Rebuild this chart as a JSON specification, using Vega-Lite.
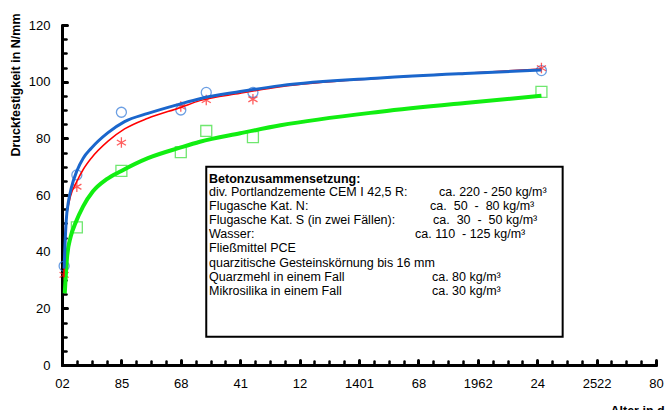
{
  "$schema": "https://vega.github.io/schema/vega-lite/v6.json",
  "width": 594,
  "height": 340,
  "autosize": "none",
  "padding": {"left": 62, "top": 25, "right": 11, "bottom": 45},
  "background": "white",
  "config": {
    "view": {"stroke": null},
    "font": "Liberation Sans",
    "axis": {"grid": false, "labelFont": "Liberation Sans", "titleFont": "Liberation Sans", "labelColor": "black", "titleColor": "black", "domainColor": "black", "tickColor": "black", "labelFontSize": 13}
  },
  "datasets": {
    "points": [
      {"serie": "Serie 1", "alter": 1, "festigkeit": 34.9},
      {"serie": "Serie 1", "alter": 7, "festigkeit": 67.1},
      {"serie": "Serie 1", "alter": 28, "festigkeit": 89.2},
      {"serie": "Serie 1", "alter": 56, "festigkeit": 90.0},
      {"serie": "Serie 1", "alter": 68, "festigkeit": 96.2},
      {"serie": "Serie 1", "alter": 90, "festigkeit": 96.2},
      {"serie": "Serie 1", "alter": 226, "festigkeit": 103.9},
      {"serie": "Serie 2", "alter": 1, "festigkeit": 31.8},
      {"serie": "Serie 2", "alter": 7, "festigkeit": 62.9},
      {"serie": "Serie 2", "alter": 28, "festigkeit": 78.5},
      {"serie": "Serie 2", "alter": 56, "festigkeit": 91.2},
      {"serie": "Serie 2", "alter": 68, "festigkeit": 93.5},
      {"serie": "Serie 2", "alter": 90, "festigkeit": 93.8},
      {"serie": "Serie 2", "alter": 226, "festigkeit": 104.8},
      {"serie": "Serie 3", "alter": 7, "festigkeit": 48.6},
      {"serie": "Serie 3", "alter": 28, "festigkeit": 68.5},
      {"serie": "Serie 3", "alter": 56, "festigkeit": 75.1},
      {"serie": "Serie 3", "alter": 68, "festigkeit": 82.6},
      {"serie": "Serie 3", "alter": 90, "festigkeit": 80.4},
      {"serie": "Serie 3", "alter": 226, "festigkeit": 96.4}
    ],
    "curves": [
      {"serie": "Serie 1", "alter": 1, "festigkeit": 34},
      {"serie": "Serie 1", "alter": 1.4, "festigkeit": 42},
      {"serie": "Serie 1", "alter": 2, "festigkeit": 51},
      {"serie": "Serie 1", "alter": 3, "festigkeit": 57.5},
      {"serie": "Serie 1", "alter": 4.4, "festigkeit": 62.5},
      {"serie": "Serie 1", "alter": 7, "festigkeit": 68.5},
      {"serie": "Serie 1", "alter": 10, "festigkeit": 73},
      {"serie": "Serie 1", "alter": 13.8, "festigkeit": 76.5},
      {"serie": "Serie 1", "alter": 21.7, "festigkeit": 82},
      {"serie": "Serie 1", "alter": 29.5, "festigkeit": 85.9},
      {"serie": "Serie 1", "alter": 40.5, "festigkeit": 88.8},
      {"serie": "Serie 1", "alter": 56, "festigkeit": 92.2},
      {"serie": "Serie 1", "alter": 65, "festigkeit": 94.0},
      {"serie": "Serie 1", "alter": 84, "festigkeit": 96.5},
      {"serie": "Serie 1", "alter": 103, "festigkeit": 98.6},
      {"serie": "Serie 1", "alter": 150, "festigkeit": 101.3},
      {"serie": "Serie 1", "alter": 190, "festigkeit": 102.9},
      {"serie": "Serie 1", "alter": 226, "festigkeit": 104.1},
      {"serie": "Serie 2", "alter": 0.9, "festigkeit": 31},
      {"serie": "Serie 2", "alter": 1.6, "festigkeit": 48},
      {"serie": "Serie 2", "alter": 2.8, "festigkeit": 55.5},
      {"serie": "Serie 2", "alter": 4, "festigkeit": 59.5},
      {"serie": "Serie 2", "alter": 7, "festigkeit": 64.8},
      {"serie": "Serie 2", "alter": 10, "festigkeit": 69},
      {"serie": "Serie 2", "alter": 13.8, "festigkeit": 73},
      {"serie": "Serie 2", "alter": 21.7, "festigkeit": 79},
      {"serie": "Serie 2", "alter": 29.5, "festigkeit": 83.3},
      {"serie": "Serie 2", "alter": 40.5, "festigkeit": 87.1},
      {"serie": "Serie 2", "alter": 56, "festigkeit": 90.9},
      {"serie": "Serie 2", "alter": 65, "festigkeit": 93.3},
      {"serie": "Serie 2", "alter": 84, "festigkeit": 95.9},
      {"serie": "Serie 2", "alter": 103, "festigkeit": 98.2},
      {"serie": "Serie 2", "alter": 150, "festigkeit": 101.2},
      {"serie": "Serie 2", "alter": 190, "festigkeit": 103.0},
      {"serie": "Serie 2", "alter": 226, "festigkeit": 104.5},
      {"serie": "Serie 3", "alter": 1.3, "festigkeit": 25.3},
      {"serie": "Serie 3", "alter": 2.4, "festigkeit": 38.2},
      {"serie": "Serie 3", "alter": 4.1, "festigkeit": 45.3},
      {"serie": "Serie 3", "alter": 6.3, "festigkeit": 50.0},
      {"serie": "Serie 3", "alter": 9.9, "festigkeit": 55.9},
      {"serie": "Serie 3", "alter": 14.6, "festigkeit": 61.3},
      {"serie": "Serie 3", "alter": 20.9, "festigkeit": 65.5},
      {"serie": "Serie 3", "alter": 28, "festigkeit": 68.5},
      {"serie": "Serie 3", "alter": 40.5, "festigkeit": 73.0},
      {"serie": "Serie 3", "alter": 56, "festigkeit": 76.8},
      {"serie": "Serie 3", "alter": 65, "festigkeit": 78.8},
      {"serie": "Serie 3", "alter": 84, "festigkeit": 81.8},
      {"serie": "Serie 3", "alter": 103, "festigkeit": 84.6},
      {"serie": "Serie 3", "alter": 150, "festigkeit": 89.4},
      {"serie": "Serie 3", "alter": 190, "festigkeit": 92.5},
      {"serie": "Serie 3", "alter": 226, "festigkeit": 95.0}
    ],
    "box": [
      {"x1": 68, "x2": 236, "y1": 10, "y2": 70}
    ],
    "notes": [
      {"rolle": "kopf", "text": "Betonzusammensetzung:", "x": 69.3, "y": 65.8},
      {"rolle": "text", "text": "div. Portlandzemente CEM I 42,5 R:", "x": 69.3, "y": 61.0},
      {"rolle": "text", "text": "Flugasche Kat. N:", "x": 69.3, "y": 56.0},
      {"rolle": "text", "text": "Flugasche Kat. S (in zwei Fällen):", "x": 69.3, "y": 51.1},
      {"rolle": "text", "text": "Wasser:", "x": 69.3, "y": 46.1},
      {"rolle": "text", "text": "Fließmittel PCE", "x": 69.3, "y": 41.2},
      {"rolle": "text", "text": "quarzitische Gesteinskörnung bis 16 mm", "x": 69.3, "y": 36.1},
      {"rolle": "text", "text": "Quarzmehl in einem Fall", "x": 69.3, "y": 31.2},
      {"rolle": "text", "text": "Mikrosilika in einem Fall", "x": 69.3, "y": 26.2},
      {"rolle": "text", "text": "ca. 220 - 250 kg/m³", "x": 177.7, "y": 61.0},
      {"rolle": "text", "text": "ca.\u00a0\u00a050\u00a0\u00a0-\u00a0\u00a080 kg/m³", "x": 173.5, "y": 56.0},
      {"rolle": "text", "text": "ca.\u00a0\u00a030\u00a0\u00a0-\u00a0\u00a050 kg/m³", "x": 174.9, "y": 51.1},
      {"rolle": "text", "text": "ca. 110\u00a0\u00a0- 125 kg/m³", "x": 166.4, "y": 46.1},
      {"rolle": "text", "text": "ca. 80 kg/m³", "x": 174.4, "y": 31.2},
      {"rolle": "text", "text": "ca. 30 kg/m³", "x": 174.4, "y": 26.2}
    ]
  },
  "resolve": {"axis": {"x": "independent", "y": "independent"}},
  "layer": [
    {
      "data": {"name": "box"},
      "mark": {"type": "rect", "fill": "white", "stroke": "black", "strokeWidth": 2},
      "encoding": {
        "x": {"field": "x1", "type": "quantitative", "scale": {"domain": [0, 280], "nice": false, "zero": false},
          "axis": {"orient": "bottom", "values": [0,7,14,21,28,35,42,49,56,63,70,77,84,91,98,105,112,119,126,133,140,147,154,161,168,175,182,189,196,203,210,217,224,231,238,245,252,259,266,273,280], "labels": false, "domain": false, "tickSize": -4, "tickWidth": 2.5, "tickCap": "round", "title": null}},
        "x2": {"field": "x2"},
        "y": {"field": "y1", "type": "quantitative", "scale": {"domain": [0, 120], "nice": false, "zero": false},
          "axis": {"orient": "left", "values": [0,5,10,15,20,25,30,35,40,45,50,55,60,65,70,75,80,85,90,95,100,105,110,115,120], "labels": false, "domain": false, "tickSize": -4, "tickWidth": 2.5, "tickCap": "round", "title": null}},
        "y2": {"field": "y2"}
      }
    },
    {
      "data": {"name": "notes"},
      "transform": [{"filter": "datum.rolle === 'kopf'"}],
      "mark": {"type": "text", "align": "left", "baseline": "middle", "fontSize": 12.5, "fontWeight": "bold", "font": "Liberation Sans", "color": "black"},
      "encoding": {
        "x": {"field": "x", "type": "quantitative", "axis": null},
        "y": {"field": "y", "type": "quantitative", "axis": null},
        "text": {"field": "text"}
      }
    },
    {
      "data": {"name": "notes"},
      "transform": [{"filter": "datum.rolle === 'text'"}],
      "mark": {"type": "text", "align": "left", "baseline": "middle", "fontSize": 12.5, "font": "Liberation Sans", "color": "black"},
      "encoding": {
        "x": {"field": "x", "type": "quantitative", "axis": null},
        "y": {"field": "y", "type": "quantitative", "axis": null},
        "text": {"field": "text"}
      }
    },
    {
      "data": {"name": "points"},
      "transform": [{"filter": "datum.serie === 'Serie 3'"}],
      "mark": {"type": "point", "shape": "square", "filled": false, "color": "#33dd33", "size": 120, "strokeWidth": 1.3},
      "encoding": {
        "x": {"field": "alter", "type": "quantitative", "axis": null},
        "y": {"field": "festigkeit", "type": "quantitative", "axis": null}
      }
    },
    {
      "data": {"name": "points"},
      "transform": [{"filter": "datum.serie === 'Serie 1'"}],
      "mark": {"type": "point", "shape": "circle", "filled": false, "color": "#2f77d8", "size": 100, "strokeWidth": 1.3},
      "encoding": {
        "x": {"field": "alter", "type": "quantitative", "axis": null},
        "y": {"field": "festigkeit", "type": "quantitative", "axis": null}
      }
    },
    {
      "data": {"name": "points"},
      "transform": [{"filter": "datum.serie === 'Serie 2'"}],
      "mark": {"type": "point", "shape": "M0,-1L0,1M-0.87,-0.5L0.87,0.5M-0.87,0.5L0.87,-0.5", "filled": false, "color": "#ff1a1a", "size": 110, "strokeWidth": 1.3},
      "encoding": {
        "x": {"field": "alter", "type": "quantitative", "axis": null},
        "y": {"field": "festigkeit", "type": "quantitative", "axis": null}
      }
    },
    {
      "data": {"name": "curves"},
      "transform": [{"filter": "datum.serie === 'Serie 3'"}],
      "mark": {"type": "line", "color": "#11ee11", "strokeWidth": 4, "interpolate": "monotone"},
      "encoding": {
        "x": {"field": "alter", "type": "quantitative", "axis": null},
        "y": {"field": "festigkeit", "type": "quantitative", "axis": null}
      }
    },
    {
      "data": {"name": "curves"},
      "transform": [{"filter": "datum.serie === 'Serie 2'"}],
      "mark": {"type": "line", "color": "#ff0000", "strokeWidth": 1.5, "interpolate": "monotone"},
      "encoding": {
        "x": {"field": "alter", "type": "quantitative", "axis": null},
        "y": {"field": "festigkeit", "type": "quantitative", "axis": null}
      }
    },
    {
      "data": {"name": "curves"},
      "transform": [{"filter": "datum.serie === 'Serie 1'"}],
      "mark": {"type": "line", "color": "#1a66cc", "strokeWidth": 3, "interpolate": "monotone"},
      "encoding": {
        "x": {"field": "alter", "type": "quantitative",
          "axis": {"orient": "bottom", "values": [0,28,56,84,112,140,168,196,224,252,280], "labelExpr": "['02','85','68','41','12','1401','68','1962','24','2522','80'][round(datum.value/28)]", "domainWidth": 3, "tickSize": -5, "tickWidth": 3, "tickCap": "round", "labelPadding": 17, "labelFlush": false, "labelOverlap": false,
            "title": "Alter in d", "titleFontSize": 12.5, "titleFontWeight": "bold", "titleAnchor": "start", "titleAlign": "left", "titleBaseline": "top", "titleX": 548, "titleY": 39}},
        "y": {"field": "festigkeit", "type": "quantitative",
          "axis": {"orient": "left", "values": [0,20,40,60,80,100,120], "domainWidth": 3, "tickSize": -5, "tickWidth": 3, "tickCap": "round", "labelPadding": 17, "labelFlush": false, "labelOverlap": false,
            "title": "Druckfestigkeit in N/mm", "titleFontSize": 12.5, "titleFontWeight": "bold", "titleAngle": -90, "titleAlign": "right", "titleBaseline": "middle", "titleX": -47, "titleY": -12}}
      }
    }
  ]
}
